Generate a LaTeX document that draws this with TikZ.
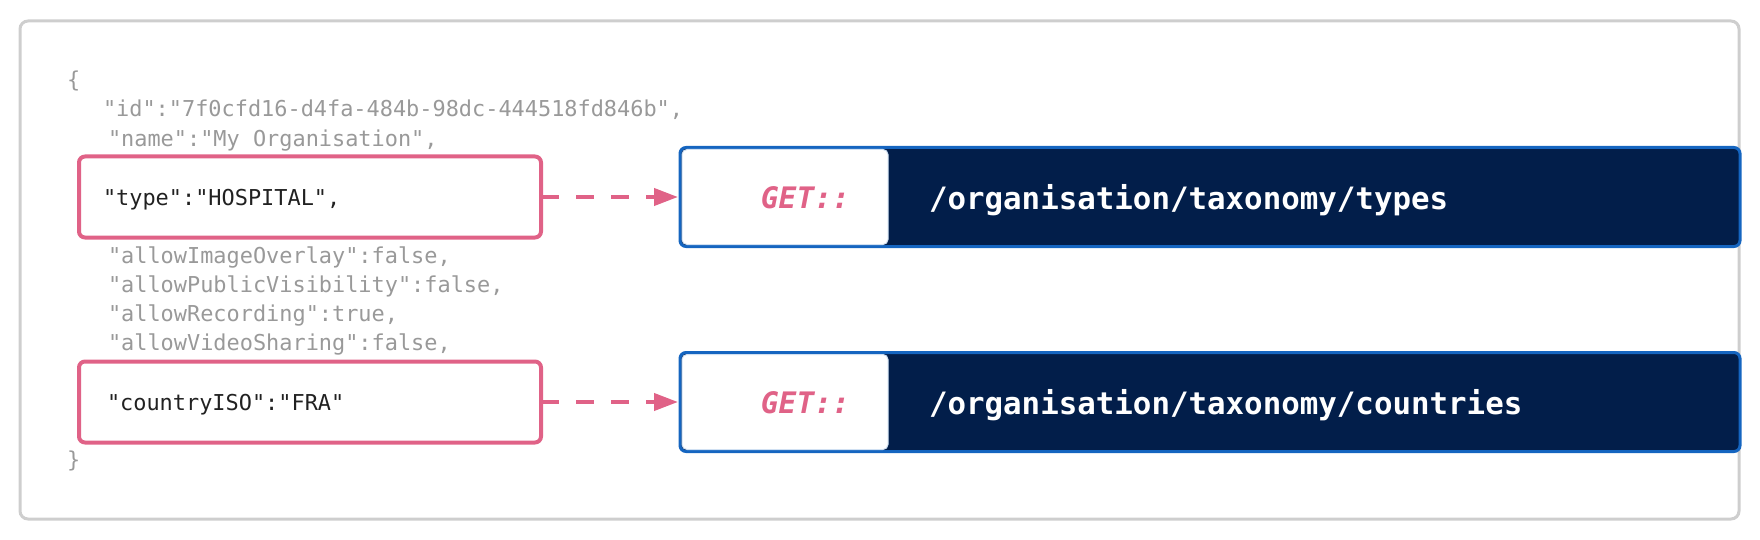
\documentclass[tikz,border=0pt]{standalone}
\usepackage{fontspec}
\setmonofont{DejaVu Sans Mono}
\usetikzlibrary{arrows.meta,positioning,calc}
\newcommand{\jsonfont}{\ttfamily\fontsize{21.9}{26}\selectfont}
\newcommand{\methodfont}{\ttfamily\bfseries\itshape\fontsize{29.6}{34}\selectfont}
\newcommand{\routefont}{\ttfamily\bfseries\fontsize{30.8}{36}\selectfont}
\definecolor{colPINK}{RGB}{224,98,135}
\definecolor{colBLUE}{RGB}{21,101,192}
\definecolor{colNAVY}{RGB}{2,30,74}
\definecolor{colGREY}{RGB}{153,153,153}
\definecolor{colFRAME}{RGB}{206,206,206}

\begin{document}
\begin{tikzpicture}[x=1pt, y=-1pt,
    every node/.style={inner sep=0pt, outer sep=0pt},
    json/.style={anchor=base west, font=\jsonfont, text=colGREY},
    key/.style={anchor=base west, font=\jsonfont, text=black!87},
    field/.style={draw=colPINK, line width=4pt, rounded corners=6pt,
      minimum width=462pt, minimum height=81pt},
    endpoint/.style={draw=colBLUE, fill=colNAVY, line width=3pt, rounded corners=6pt,
      minimum width=1060pt, minimum height=99pt, anchor=west},
    verb/.style={fill=white, draw=colBLUE!20, line width=1pt, rounded corners=5pt,
      minimum width=206pt, minimum height=95pt, anchor=west},
    method/.style={font=\methodfont, text=colPINK, anchor=base east},
    route/.style={font=\routefont, text=white, anchor=base west},
    link/.style={draw=colPINK, line width=4pt, dash pattern=on 18pt off 17pt,
      shorten >=2pt, -{Triangle[length=24pt, width=17pt]}}
  ]
  \useasboundingbox (0,0) rectangle (1760,540);
  % outer frame
  \draw[draw=colFRAME, line width=3pt, rounded corners=8pt] (20,21) rectangle (1739,519);

  % json payload
  \node[json] (open) at (67,88) {\{};
  \foreach \n/\x/\y/\t in {id/103/117/{"id":"7f0cfd16-d4fa-484b-98dc-444518fd846b",},
      name/108/147/{"name":"My Organisation",},
      overlay/108/263/{"allowImageOverlay":false,},
      public/108/292/{"allowPublicVisibility":false,},
      record/108/321/{"allowRecording":true,},
      video/108/350/{"allowVideoSharing":false,}}{
    \node[json] (\n) at (\x,\y) {\t};
  }
  \node[json] (close) at (67,467) {\}};

  % highlighted fields
  \node[field] (typebox) at (310,197) {};
  \node[key] (typekey) at (103,205) {"type":"HOSPITAL",};
  \node[field] (countrybox) at (310,402) {};
  \node[key] (countrykey) at (107,410) {"countryISO":"FRA"};

  % endpoints
  \node[endpoint] (typesurl) at (680,197) {};
  \node[verb] (typesverb) at ([xshift=2pt]typesurl.west) {};
  \node[method] (typesget) at ($(typesverb.east)+(-38,11.5)$) {GET::};
  \node[route] (typesroute) at ($(typesverb.east)+(41,12)$) {/organisation/taxonomy/types};

  \node[endpoint] (countriesurl) at (680,402) {};
  \node[verb] (countriesverb) at ([xshift=2pt]countriesurl.west) {};
  \node[method] (countriesget) at ($(countriesverb.east)+(-38,11.5)$) {GET::};
  \node[route] (countriesroute) at ($(countriesverb.east)+(41,12)$) {/organisation/taxonomy/countries};

  % lookups
  \draw[link] (typebox.east) -- (typesurl.west);
  \draw[link] (countrybox.east) -- (countriesurl.west);
\end{tikzpicture}
\end{document}
